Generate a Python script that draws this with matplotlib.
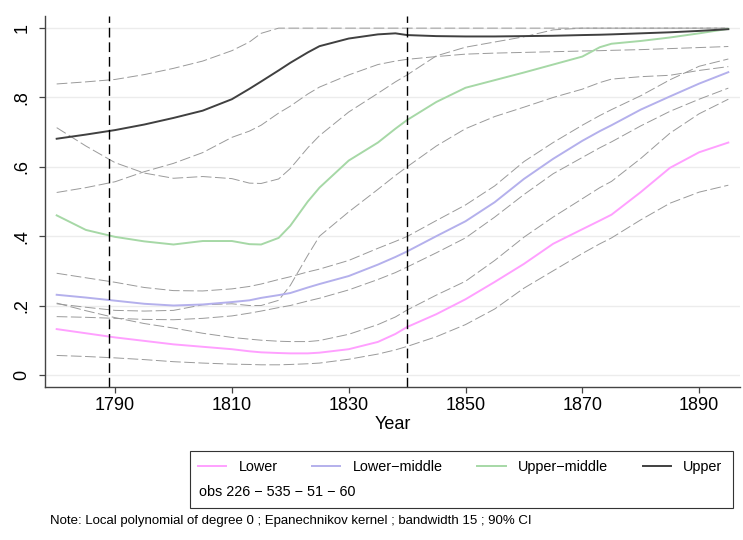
import numpy as np
import matplotlib
matplotlib.use('Agg')
import matplotlib.pyplot as plt
from matplotlib.patches import Rectangle

plt.rcParams['font.family'] = ['Liberation Sans', 'DejaVu Sans']

# local polynomial smooth by social class, with 90% CI bounds
years = [1780, 1785, 1790, 1795, 1800, 1805, 1810, 1813, 1815, 1818, 1820, 1823, 1825,
         1830, 1835, 1838, 1840, 1845, 1850, 1855, 1860, 1865, 1870, 1873, 1875, 1880,
         1885, 1890, 1895]

lower = [.132, .120, .108, .098, .088, .081, .074, .068, .065, .063, .062, .062, .064,
         .074, .095, .118, .138, .175, .218, .268, .320, .378, .420, .445, .462, .527,
         .597, .642, .670]
lower_hi = [.207, .185, .165, .148, .135, .120, .108, .103, .100, .097, .096, .096, .099,
            .117, .145, .167, .187, .230, .270, .330, .397, .455, .508, .540, .558, .624,
            .697, .753, .795]
lower_lo = [.056, .053, .049, .044, .038, .034, .031, .030, .029, .029, .030, .032, .034,
            .045, .060, .072, .082, .110, .145, .190, .250, .300, .350, .378, .395, .447,
            .495, .527, .547]

lower_mid = [.231, .223, .214, .205, .200, .203, .210, .215, .222, .230, .236, .252, .262,
             .285, .318, .340, .356, .400, .443, .498, .565, .623, .675, .703, .720, .765,
             .803, .840, .873]
lower_mid_hi = [.293, .280, .267, .252, .243, .242, .248, .255, .262, .275, .283, .297, .305,
                .330, .365, .385, .399, .445, .490, .545, .615, .670, .720, .748, .765, .805,
                .851, .890, .911]
lower_mid_lo = [.168, .166, .163, .160, .159, .163, .170, .178, .184, .194, .200, .213, .221,
                .245, .275, .295, .311, .352, .395, .455, .520, .580, .627, .655, .672, .718,
                .760, .795, .827]

upper_mid = [.460, .418, .398, .385, .376, .386, .386, .377, .376, .395, .430, .500, .540,
             .618, .670, .710, .735, .787, .828, .850, .872, .895, .918, .945, .955, .963,
             .973, .985, .998]
upper_mid_hi = [.713, .660, .612, .582, .567, .572, .566, .553, .552, .565, .595, .655, .690,
                .758, .812, .845, .865, .920, .945, .960, .975, .995, 1.0, 1.0, 1.0, 1.0,
                1.0, 1.0, 1.0]
upper_mid_lo = [.205, .195, .186, .184, .186, .202, .205, .200, .200, .215, .258, .345, .400,
                .470, .535, .575, .600, .660, .710, .745, .772, .800, .824, .843, .853, .860,
                .864, .878, .889]

upper = [.681, .693, .706, .722, .741, .762, .795, .825, .846, .878, .900, .930, .948,
         .970, .982, .985, .980, .977, .976, .976, .977, .978, .980, .981, .982, .985,
         .988, .992, .997]
upper_hi = [.839, .845, .852, .866, .884, .905, .935, .960, .985, 1.0, 1.0, 1.0, 1.0,
            1.0, 1.0, 1.0, 1.0, 1.0, 1.0, 1.0, 1.0, 1.0, 1.0, 1.0, 1.0, 1.0,
            1.0, 1.0, 1.0]
upper_lo = [.526, .540, .557, .586, .610, .641, .685, .703, .720, .755, .775, .810, .830,
            .865, .895, .905, .910, .918, .925, .928, .930, .932, .934, .935, .936, .938,
            .941, .944, .947]

class_labels = ['Lower', 'Lower\u2212middle', 'Upper\u2212middle', 'Upper']
class_colors = ['#ffa0ff', '#b4b0ec', '#a6d8a6', '#404040']
event_years = [1789, 1840]
obs_text = 'obs 226 \u2212 535 \u2212 51 \u2212 60'
note_text = 'Note: Local polynomial of degree 0 ; Epanechnikov kernel ; bandwidth 15 ; 90% CI'

W, H = 743, 540
fig = plt.figure(figsize=(W / 100, H / 100), dpi=100)
ax = fig.add_axes([45 / W, 1 - 387 / H, 695 / W, 371 / H])

ci_style = dict(color='#9a9a9a', lw=0.7, linestyle=(0, (11, 3.6)))
for lo, hi in [(lower_lo, lower_hi), (lower_mid_lo, lower_mid_hi),
               (upper_mid_lo, upper_mid_hi), (upper_lo, upper_hi)]:
    ax.plot(years, hi, **ci_style)
    ax.plot(years, lo, **ci_style)

handles = []
for series, col, lab in zip([lower, lower_mid, upper_mid, upper], class_colors, class_labels):
    h, = ax.plot(years, series, color=col, lw=1.4, label=lab)
    handles.append(h)

for ev in event_years:
    ax.axvline(ev, color='black', lw=1.0, linestyle=(0, (7, 3.5)))

ax.set_xlim(1778, 1897)
ax.set_ylim(-0.035, 1.035)
ax.set_xticks([1790, 1810, 1830, 1850, 1870, 1890])
ax.set_yticks([0, .2, .4, .6, .8, 1])
ax.set_yticklabels(['0', '.2', '.4', '.6', '.8', '1'], rotation=90, va='center')
ax.tick_params(axis='both', labelsize=13, length=4.5, width=0.9, color='#444444')
ax.tick_params(axis='y', pad=6)
ax.tick_params(axis='x', pad=3)
ax.set_xlabel('Year', fontsize=13, labelpad=1)

ax.grid(axis='y', color='#ececec', lw=1.0)
ax.set_axisbelow(True)
for s in ['top', 'right']:
    ax.spines[s].set_visible(False)
for s in ['left', 'bottom']:
    ax.spines[s].set_color('#444444')
    ax.spines[s].set_linewidth(1.0)

# legend box below the plot
fig.add_artist(Rectangle((190 / W, 1 - 508 / H), (733 - 190) / W, (508 - 451) / H,
                         transform=fig.transFigure, fill=False, edgecolor='#333333', lw=0.8))
fig.legend(handles, class_labels, loc='upper left', bbox_to_anchor=(198 / W, 1 - 460 / H),
           ncol=4, frameon=False, fontsize=10.4, handlelength=1.95, handletextpad=0.85,
           columnspacing=2.4, borderaxespad=0, borderpad=0)
fig.text(199 / W, 1 - 492 / H, obs_text, fontsize=10.4, va='center')
fig.text(50 / W, 1 - 521 / H, note_text, fontsize=9.5, va='center')

fig.savefig('out.png', dpi=100)
